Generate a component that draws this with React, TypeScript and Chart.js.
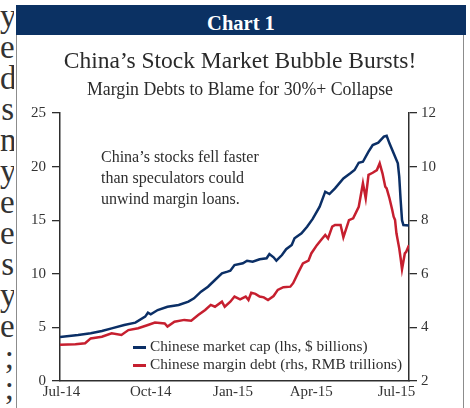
import React, { useEffect, useRef } from "react";
import { Chart, registerables } from "chart.js";

Chart.register(...registerables);

// ---- data (trading-day index from 1 Jul 2014) ----
const capDay = [0, 13, 22, 30, 37, 46, 54, 61, 63, 65, 70, 77, 85, 92, 96, 101, 106, 111, 116, 120, 122, 125, 131, 134, 138, 143, 148, 150, 153, 155, 159, 162, 166, 168, 173, 177, 181, 186, 190, 193, 197, 203, 208, 211, 214, 217, 221, 224, 228, 232, 234, 236, 239, 242, 243, 244, 245, 246, 250];
const marketCap = [4.1, 4.29, 4.45, 4.66, 4.91, 5.22, 5.44, 6.0, 6.37, 6.22, 6.62, 6.93, 7.09, 7.4, 7.71, 8.33, 8.8, 9.42, 10.05, 10.2, 10.29, 10.82, 10.98, 11.22, 11.13, 11.35, 11.45, 11.85, 11.54, 11.22, 11.75, 12.29, 12.69, 13.31, 13.78, 14.39, 15.12, 16.26, 17.66, 17.44, 17.97, 18.9, 19.37, 19.68, 20.36, 20.45, 21.39, 22.01, 22.23, 22.79, 22.88, 22.17, 21.24, 20.31, 19.06, 16.9, 15.0, 14.55, 14.5];

const debtDay = [0, 11, 18, 22, 30, 37, 44, 49, 56, 63, 68, 75, 77, 82, 89, 94, 99, 104, 108, 111, 116, 118, 122, 125, 129, 133, 135, 137, 140, 143, 146, 149, 153, 156, 160, 165, 167, 171, 174, 178, 180, 184, 187, 190, 192, 195, 197, 201, 203, 207, 210, 214, 217, 219, 221, 224, 227, 229, 231, 233, 234, 236, 238, 239, 240, 241, 243, 244, 245, 247, 248, 250];
const marginDebt = [3.35, 3.37, 3.41, 3.59, 3.65, 3.78, 3.72, 3.9, 3.97, 4.09, 4.18, 4.15, 4.03, 4.21, 4.28, 4.25, 4.46, 4.65, 4.84, 4.77, 4.96, 4.77, 4.96, 5.15, 5.05, 5.15, 5.02, 5.29, 5.25, 5.15, 5.12, 5.02, 5.17, 5.4, 5.5, 5.52, 5.65, 6.08, 6.39, 6.49, 6.76, 7.07, 7.26, 7.45, 7.32, 7.76, 7.82, 7.82, 7.36, 8.0, 8.07, 8.5, 9.38, 8.82, 9.69, 9.77, 9.87, 10.12, 9.75, 9.25, 9.19, 8.82, 8.38, 8.13, 8.01, 7.51, 6.95, 6.58, 6.17, 6.76, 6.82, 7.07];

const xTickPos = [1, 65, 124, 180, 241];
const xTickLabels = ["Jul-14", "Oct-14", "Jan-15", "Apr-15", "Jul-15"];

const seriesNames = [
  "Chinese market cap (lhs, $ billions)",
  "Chinese margin debt (rhs, RMB trillions)",
];
const marginText = ["y", "e", "d", "s", "n", "y", "e", "e", "s", "y.", "e", ";", ";"];

const NAVY = "#0b2f66";
const RED = "#c61f2f";
const BAND = "#0b3163";
const AXIS = "#2e2e2e";
const SERIF = "'Liberation Serif', 'DejaVu Serif', serif";

export default function App() {
  const ref = useRef<HTMLCanvasElement | null>(null);

  useEffect(() => {
    if (!ref.current) return;
    const tickFont = { family: SERIF, size: 15 };
    const chart = new Chart(ref.current, {
      type: "line",
      data: {
        datasets: [
          {
            label: seriesNames[0],
            data: capDay.map((d, i) => ({ x: d, y: marketCap[i] })),
            borderColor: NAVY,
            borderWidth: 2.5,
            pointRadius: 0,
            tension: 0,
            yAxisID: "y",
          },
          {
            label: seriesNames[1],
            data: debtDay.map((d, i) => ({ x: d, y: marginDebt[i] })),
            borderColor: RED,
            borderWidth: 2.5,
            pointRadius: 0,
            tension: 0,
            yAxisID: "y1",
          },
        ],
      },
      options: {
        responsive: false,
        animation: false,
        devicePixelRatio: 1,
        layout: { padding: { left: 20, right: 21, top: 113, bottom: 0 } },
        plugins: {
          legend: { display: false },
          tooltip: { enabled: false },
          title: { display: false },
        },
        scales: {
          x: {
            type: "linear",
            min: 0,
            max: 250,
            grid: { display: false, drawTicks: false },
            border: { display: true, color: AXIS, width: 1.5 },
            ticks: {
              autoSkip: false,
              maxRotation: 0,
              minRotation: 0,
              padding: 2,
              font: tickFont,
              color: "#333",
              callback: (_v: any, i: number) => xTickLabels[i],
            },
            afterBuildTicks: (s: any) => {
              s.ticks = xTickPos.map((v) => ({ value: v }));
            },
            afterFit: (s: any) => {
              s.height = 27;
            },
          },
          y: {
            position: "left",
            min: 0,
            max: 25,
            ticks: { stepSize: 5, padding: 6, font: tickFont, color: "#333" },
            grid: { drawOnChartArea: false, drawTicks: true, tickLength: 8, color: AXIS, lineWidth: 1.3 },
            border: { display: true, color: AXIS, width: 1.5 },
            afterFit: (s: any) => {
              s.width = 40;
            },
          },
          y1: {
            position: "right",
            min: 2,
            max: 12,
            ticks: { stepSize: 2, padding: 4, font: tickFont, color: "#333" },
            grid: { drawOnChartArea: false, drawTicks: true, tickLength: 8, color: AXIS, lineWidth: 1.3 },
            border: { display: true, color: AXIS, width: 1.5 },
            afterFit: (s: any) => {
              s.width = 40;
            },
          },
        },
      },
    } as any);
    return () => chart.destroy();
  }, []);

  const abs = (o: React.CSSProperties): React.CSSProperties => ({ position: "absolute", ...o });

  return (
    <div style={abs({ left: 0, top: 0, width: 470, height: 408, background: "#fff", overflow: "hidden", fontFamily: SERIF, color: "#2a2a2a" })}>
      {/* cut-off page text at the left */}
      <div style={abs({ left: 0, top: 1, width: 14, overflow: "hidden", textAlign: "right", fontSize: 33, lineHeight: "31px", whiteSpace: "pre", color: "#333" })}>
        {marginText.map((c, i) => (
          <div key={i}>{c}</div>
        ))}
      </div>

      {/* header band */}
      <div style={abs({ left: 16, top: 5, width: 450, height: 30, background: BAND })} />
      <div style={abs({ left: 16, top: 8, width: 450, textAlign: "center", fontSize: 20.5, fontWeight: "bold", lineHeight: "30px", color: "#fff" })}>Chart 1</div>

      {/* box border */}
      <div style={abs({ left: 16, top: 35, width: 446, height: 380, borderLeft: "1px solid #8c8c8c", borderRight: "1px solid #8c8c8c" })} />

      <canvas ref={ref} width={470} height={408} style={abs({ left: 0, top: 0, width: 470, height: 408 })} />

      {/* titles */}
      <div style={abs({ left: 16, top: 46, width: 448, textAlign: "center", fontSize: 23.5, lineHeight: "28px" })}>China’s Stock Market Bubble Bursts!</div>
      <div style={abs({ left: 16, top: 78, width: 448, textAlign: "center", fontSize: 17.8, lineHeight: "22px" })}>Margin Debts to Blame for 30%+ Collapse</div>

      {/* annotation */}
      <div style={abs({ left: 101, top: 146, fontSize: 16, lineHeight: "21px", color: "#2e2e2e", whiteSpace: "nowrap" })}>
        China’s stocks fell faster<br />than speculators could<br />unwind margin loans.
      </div>

      {/* legend */}
      <div style={abs({ left: 133, top: 345.5, width: 13, height: 3, background: NAVY })} />
      <div style={abs({ left: 133, top: 364, width: 13, height: 3, background: RED })} />
      <div style={abs({ left: 150, top: 336.6, fontSize: 15.3, lineHeight: "18.5px", color: "#2e2e2e", whiteSpace: "nowrap" })}>
        {seriesNames[0]}<br />{seriesNames[1]}
      </div>
    </div>
  );
}
